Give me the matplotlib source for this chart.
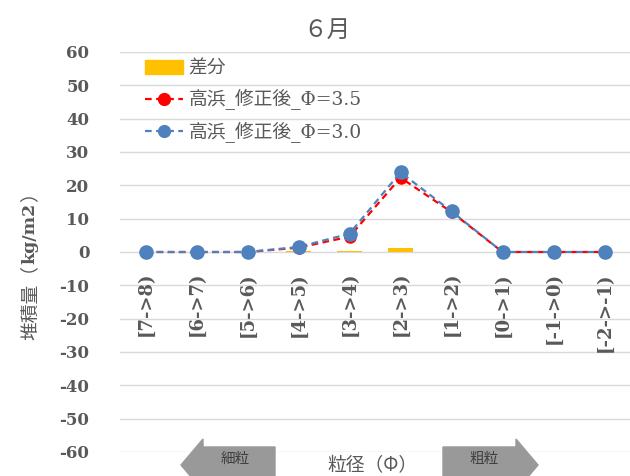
import numpy as np
import matplotlib
matplotlib.use("Agg")
import matplotlib.pyplot as plt
from matplotlib.patches import Polygon, Patch
from matplotlib.lines import Line2D

plt.rcParams['font.family'] = ['Noto Sans CJK JP', 'DejaVu Sans']

categories = ["[7->8)", "[6->7)", "[5->6)", "[4->5)", "[3->4)",
              "[2->3)", "[1->2)", "[0->1)", "[-1->0)", "[-2->-1)"]
diff = [0, 0, 0, 0.3, 0.4, 1.1, 0.15, 0, 0, 0]
phi35 = [0, 0, 0, 1.3, 4.6, 22.3, 12.0, 0, 0, 0]
phi30 = [0, 0, 0, 1.5, 5.5, 23.9, 12.2, 0, 0, 0]
yticks = list(range(-60, 61, 10))

grey = '#595959'
serif = ['DejaVu Serif', 'Noto Sans CJK JP']

fig = plt.figure(figsize=(6.3, 4.76), dpi=100)
ax = fig.add_axes([120/630, 24/476, 510/630, 400/476])

x = np.arange(len(categories))
ax.bar(x, diff, width=0.49, color='#FFC000', zorder=2)
ax.plot(x, phi35, color='#FF0000', ls=(0, (3, 2)), lw=1.6, marker='o',
        markersize=8, zorder=3)
ax.plot(x, phi30, color='#4F81BD', ls=(0, (3, 2)), lw=1.6, marker='o',
        markersize=9.5, zorder=4)

ax.set_xlim(-0.5, len(categories) - 0.5)
ax.set_ylim(-60, 60)
ax.set_yticks(yticks)
ax.set_yticklabels([str(v) for v in yticks], fontfamily=serif,
                   fontweight='bold', fontsize=12, color=grey)
ax.set_xticks([])
ax.tick_params(axis='y', length=0, pad=22)
ax.grid(axis='y', color='#D9D9D9', lw=1)
ax.set_axisbelow(True)
for s in ax.spines.values():
    s.set_visible(False)

for i, lab in enumerate(categories):
    ax.text(i, -6, lab, rotation=90, ha='center', va='top',
            fontfamily=serif, fontweight='bold', fontsize=13, color=grey)

handles = [
    Patch(color='#FFC000'),
    Line2D([], [], color='#FF0000', ls=(0, (3, 2)), lw=1.6, marker='o', markersize=8.5),
    Line2D([], [], color='#4F81BD', ls=(0, (3, 2)), lw=1.6, marker='o', markersize=8.5),
]
labels = ['差分', '高浜_修正後_Φ=3.5', '高浜_修正後_Φ=3.0']
leg = ax.legend(handles, labels, loc='upper left', bbox_to_anchor=(0.035, 1.0),
                frameon=False, prop={'family': serif, 'size': 13.5},
                labelspacing=0.62, handlelength=2.0,
                handletextpad=0.3, borderaxespad=0)
for t in leg.get_texts():
    t.set_color(grey)

fig.text(327/630, 1 - 30/476, '６月', ha='center', va='center', fontsize=17, color=grey)

# y label: 堆積量（kg/m2）, kanji regular, units bold serif
fig.text(30/630, 1 - 265/476, '堆積量（', rotation=90, ha='center', va='top',
         fontsize=13.5, color=grey)
fig.text(30/630, 1 - 233/476, 'kg/m2', rotation=90, ha='center', va='center',
         fontfamily=serif, fontweight='bold', fontsize=12.5, color=grey)
fig.text(30/630, 1 - 202/476, '）', rotation=90, ha='center', va='bottom',
         fontsize=13.5, color=grey)

fig.text(372/630, 1 - 466/476, '粒径（Φ）', ha='center', va='center',
         fontsize=13.5, color=grey)

# arrows at the bottom
W, H = 630, 476
def fpoly(pts):
    return Polygon([(px / W, 1 - py / H) for px, py in pts], closed=True,
                   transform=fig.transFigure, color='#999999', zorder=5)

fig.patches.append(fpoly([(181, 465), (203, 439), (203, 447), (275, 447),
                          (275, 490), (203, 490), (203, 491)]))
fig.patches.append(fpoly([(538, 465), (516, 439), (516, 447), (443, 447),
                          (443, 490), (516, 490), (516, 491)]))
fig.text(235/630, 1 - 459/476, '細粒', ha='center', va='center', fontsize=10.5,
         color='#404040', zorder=6)
fig.text(484/630, 1 - 459/476, '粗粒', ha='center', va='center', fontsize=10.5,
         color='#404040', zorder=6)

fig.savefig('out.png', dpi=100)
